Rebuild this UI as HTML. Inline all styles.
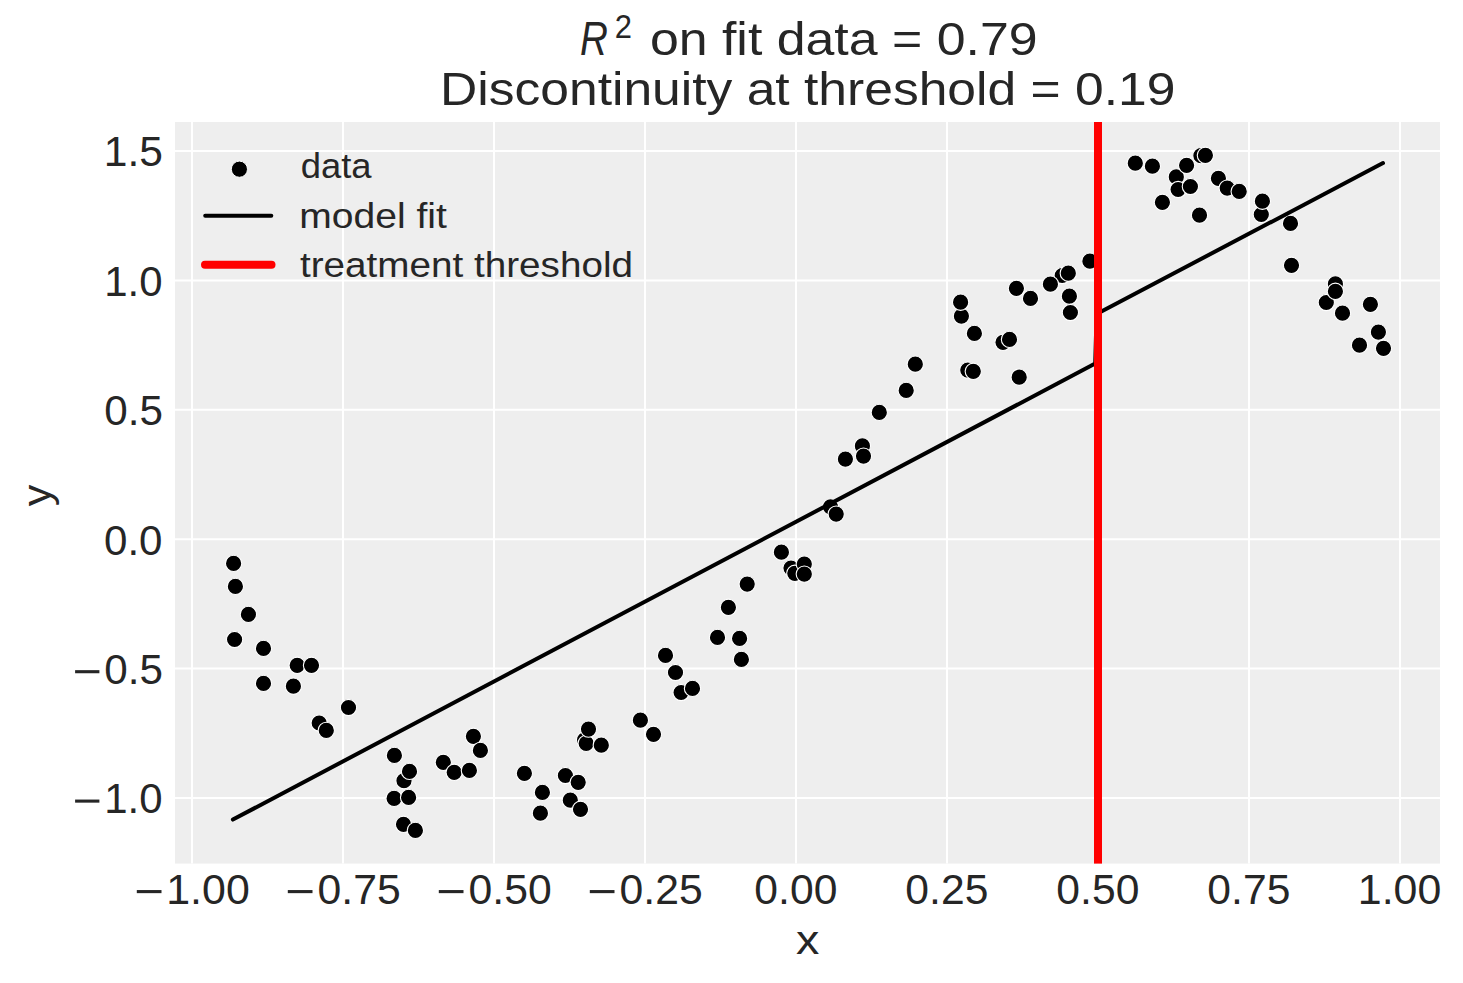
<!DOCTYPE html>
<html><head><meta charset="utf-8"><style>
html,body{margin:0;padding:0;background:#fff;width:1463px;height:983px;overflow:hidden}
svg{display:block}
text{font-family:"Liberation Sans", sans-serif;fill:#262626}
</style></head><body>
<svg width="1463" height="983" viewBox="0 0 1463 983">
<rect x="0" y="0" width="1463" height="983" fill="#fff"/>
<rect x="175.0" y="122.0" width="1265.0" height="741.6" fill="#eeeeee"/>
<path d="M192.0 122.0V863.6 M343.0 122.0V863.6 M494.0 122.0V863.6 M645.0 122.0V863.6 M796.0 122.0V863.6 M947.0 122.0V863.6 M1098.0 122.0V863.6 M1249.0 122.0V863.6 M1400.0 122.0V863.6 M175.0 151.0H1440.0 M175.0 280.4H1440.0 M175.0 409.8H1440.0 M175.0 539.2H1440.0 M175.0 668.6H1440.0 M175.0 798.0H1440.0" stroke="#fff" stroke-width="2" fill="none"/>
<g fill="#000" stroke="#fff" stroke-width="1.1"><circle cx="319.2" cy="723.0" r="8.15"/><circle cx="584.6" cy="739.8" r="8.15"/><circle cx="791.0" cy="568.1" r="8.15"/><circle cx="794.8" cy="573.3" r="8.15"/><circle cx="830.5" cy="506.9" r="8.15"/><circle cx="862.4" cy="445.9" r="8.15"/><circle cx="1003.0" cy="342.3" r="8.15"/><circle cx="967.8" cy="370.1" r="8.15"/><circle cx="1062.2" cy="275.5" r="8.15"/><circle cx="1200.9" cy="155.7" r="8.15"/><circle cx="1261.3" cy="214.5" r="8.15"/><circle cx="1335.4" cy="283.9" r="8.15"/><circle cx="1326.3" cy="302.5" r="8.15"/><circle cx="404.0" cy="780.7" r="8.15"/><circle cx="297.2" cy="665.3" r="8.15"/><circle cx="1176.3" cy="176.9" r="8.15"/><circle cx="1178.1" cy="189.5" r="8.15"/><circle cx="1218.4" cy="178.3" r="8.15"/><circle cx="1227.2" cy="188.1" r="8.15"/><circle cx="403.5" cy="824.3" r="8.15"/><circle cx="394.1" cy="798.4" r="8.15"/><circle cx="443.3" cy="762.3" r="8.15"/><circle cx="681.1" cy="692.5" r="8.15"/><circle cx="961.4" cy="316.1" r="8.15"/><circle cx="233.6" cy="563.4" r="8.15"/><circle cx="235.4" cy="586.4" r="8.15"/><circle cx="248.4" cy="614.4" r="8.15"/><circle cx="234.6" cy="639.5" r="8.15"/><circle cx="263.5" cy="648.4" r="8.15"/><circle cx="311.5" cy="665.3" r="8.15"/><circle cx="263.5" cy="683.4" r="8.15"/><circle cx="293.4" cy="686.2" r="8.15"/><circle cx="348.5" cy="707.5" r="8.15"/><circle cx="326.3" cy="730.4" r="8.15"/><circle cx="394.4" cy="755.4" r="8.15"/><circle cx="409.5" cy="771.4" r="8.15"/><circle cx="408.6" cy="797.4" r="8.15"/><circle cx="415.4" cy="830.4" r="8.15"/><circle cx="454.2" cy="772.3" r="8.15"/><circle cx="469.4" cy="770.4" r="8.15"/><circle cx="473.4" cy="736.3" r="8.15"/><circle cx="480.4" cy="750.4" r="8.15"/><circle cx="524.4" cy="773.3" r="8.15"/><circle cx="542.4" cy="792.4" r="8.15"/><circle cx="540.4" cy="813.2" r="8.15"/><circle cx="565.4" cy="775.5" r="8.15"/><circle cx="578.2" cy="782.3" r="8.15"/><circle cx="570.3" cy="800.2" r="8.15"/><circle cx="580.5" cy="809.3" r="8.15"/><circle cx="586.2" cy="743.4" r="8.15"/><circle cx="588.5" cy="729.1" r="8.15"/><circle cx="601.3" cy="745.2" r="8.15"/><circle cx="640.4" cy="720.2" r="8.15"/><circle cx="653.5" cy="734.3" r="8.15"/><circle cx="665.5" cy="655.4" r="8.15"/><circle cx="675.5" cy="672.5" r="8.15"/><circle cx="692.5" cy="688.4" r="8.15"/><circle cx="717.5" cy="637.4" r="8.15"/><circle cx="739.6" cy="638.4" r="8.15"/><circle cx="741.4" cy="659.4" r="8.15"/><circle cx="781.4" cy="552.2" r="8.15"/><circle cx="804.3" cy="564.0" r="8.15"/><circle cx="804.3" cy="574.1" r="8.15"/><circle cx="747.2" cy="584.1" r="8.15"/><circle cx="728.4" cy="607.3" r="8.15"/><circle cx="836.2" cy="514.1" r="8.15"/><circle cx="845.4" cy="459.1" r="8.15"/><circle cx="863.5" cy="456.1" r="8.15"/><circle cx="879.3" cy="412.4" r="8.15"/><circle cx="906.2" cy="390.4" r="8.15"/><circle cx="915.3" cy="364.2" r="8.15"/><circle cx="960.6" cy="302.2" r="8.15"/><circle cx="974.4" cy="333.4" r="8.15"/><circle cx="1009.5" cy="339.4" r="8.15"/><circle cx="973.3" cy="371.3" r="8.15"/><circle cx="1019.2" cy="377.2" r="8.15"/><circle cx="1016.4" cy="288.3" r="8.15"/><circle cx="1030.5" cy="298.4" r="8.15"/><circle cx="1050.4" cy="284.2" r="8.15"/><circle cx="1068.3" cy="273.2" r="8.15"/><circle cx="1069.4" cy="296.2" r="8.15"/><circle cx="1070.4" cy="312.5" r="8.15"/><circle cx="1089.9" cy="261.2" r="8.15"/><circle cx="1135.3" cy="163.2" r="8.15"/><circle cx="1152.4" cy="166.2" r="8.15"/><circle cx="1186.6" cy="165.3" r="8.15"/><circle cx="1190.4" cy="186.5" r="8.15"/><circle cx="1162.4" cy="202.3" r="8.15"/><circle cx="1205.4" cy="155.3" r="8.15"/><circle cx="1239.2" cy="191.4" r="8.15"/><circle cx="1199.5" cy="215.2" r="8.15"/><circle cx="1262.4" cy="201.2" r="8.15"/><circle cx="1290.5" cy="223.4" r="8.15"/><circle cx="1291.5" cy="265.3" r="8.15"/><circle cx="1335.4" cy="291.3" r="8.15"/><circle cx="1342.5" cy="313.2" r="8.15"/><circle cx="1370.4" cy="304.3" r="8.15"/><circle cx="1378.4" cy="332.1" r="8.15"/><circle cx="1359.5" cy="345.2" r="8.15"/><circle cx="1383.5" cy="348.3" r="8.15"/></g>
<path d="M232.9 819.6L1095.2 363.55L1096.6 314.0L1383 163.1" stroke="#000" stroke-width="4" fill="none" stroke-linecap="round" stroke-linejoin="round"/>
<rect x="1094" y="122.0" width="8" height="741.6" fill="#ff0000"/>
<circle cx="239.4" cy="169.2" r="8.1" fill="#000" stroke="#fff" stroke-width="1"/>
<path d="M205.2 215.8H271.3" stroke="#000" stroke-width="4" stroke-linecap="round"/>
<path d="M205 264.8H271.5" stroke="#ff0000" stroke-width="8" stroke-linecap="round"/>
<text x="580.11" y="54.80" font-size="49" font-style="italic" textLength="27.88" lengthAdjust="spacingAndGlyphs">R</text>
<text x="614.86" y="38.00" font-size="33" textLength="17.21" lengthAdjust="spacingAndGlyphs">2</text>
<text x="649.90" y="54.80" font-size="47" textLength="387.72" lengthAdjust="spacingAndGlyphs">on fit data = 0.79</text>
<text x="440.01" y="104.80" font-size="47" textLength="735.34" lengthAdjust="spacingAndGlyphs">Discontinuity at threshold = 0.19</text>
<text x="300.78" y="178.20" font-size="35.5" textLength="70.82" lengthAdjust="spacingAndGlyphs">data</text>
<text x="299.30" y="228.40" font-size="35.5" textLength="147.59" lengthAdjust="spacingAndGlyphs">model fit</text>
<text x="300.00" y="277.00" font-size="35.5" textLength="333.02" lengthAdjust="spacingAndGlyphs">treatment threshold</text>
<text x="103.77" y="166.30" font-size="42.2" textLength="59.20" lengthAdjust="spacingAndGlyphs">1.5</text>
<text x="104.22" y="295.70" font-size="42.2" textLength="58.34" lengthAdjust="spacingAndGlyphs">1.0</text>
<text x="104.30" y="425.10" font-size="42.2" textLength="58.66" lengthAdjust="spacingAndGlyphs">0.5</text>
<text x="104.00" y="554.50" font-size="42.2" textLength="58.55" lengthAdjust="spacingAndGlyphs">0.0</text>
<text x="104.30" y="683.90" font-size="42.2" textLength="58.66" lengthAdjust="spacingAndGlyphs">0.5</text>
<text x="104.22" y="813.30" font-size="42.2" textLength="58.34" lengthAdjust="spacingAndGlyphs">1.0</text>
<text x="166.25" y="903.80" font-size="42.2" textLength="83.48" lengthAdjust="spacingAndGlyphs">1.00</text>
<text x="317.59" y="903.80" font-size="42.2" textLength="83.14" lengthAdjust="spacingAndGlyphs">0.75</text>
<text x="468.59" y="903.80" font-size="42.2" textLength="83.14" lengthAdjust="spacingAndGlyphs">0.50</text>
<text x="619.59" y="903.80" font-size="42.2" textLength="83.14" lengthAdjust="spacingAndGlyphs">0.25</text>
<text x="754.39" y="903.80" font-size="42.2" textLength="83.03" lengthAdjust="spacingAndGlyphs">0.00</text>
<text x="905.39" y="903.80" font-size="42.2" textLength="83.03" lengthAdjust="spacingAndGlyphs">0.25</text>
<text x="1056.39" y="903.80" font-size="42.2" textLength="83.03" lengthAdjust="spacingAndGlyphs">0.50</text>
<text x="1207.39" y="903.80" font-size="42.2" textLength="83.03" lengthAdjust="spacingAndGlyphs">0.75</text>
<text x="1357.85" y="903.80" font-size="42.2" textLength="83.48" lengthAdjust="spacingAndGlyphs">1.00</text>
<text x="796.05" y="953.90" font-size="40.5" textLength="23.34" lengthAdjust="spacingAndGlyphs">x</text>
<text transform="translate(50.7 506.30) rotate(-90)" x="0" y="0" font-size="40.5" textLength="21.57" lengthAdjust="spacingAndGlyphs">y</text>
<g fill="#262626"><rect x="75.10" y="670.15" width="24.30" height="3.1"/><rect x="75.10" y="799.55" width="24.30" height="3.1"/><rect x="136.80" y="890.05" width="24.70" height="3.1"/><rect x="287.80" y="890.05" width="24.70" height="3.1"/><rect x="438.80" y="890.05" width="24.70" height="3.1"/><rect x="589.80" y="890.05" width="24.70" height="3.1"/></g>
</svg></body></html>
